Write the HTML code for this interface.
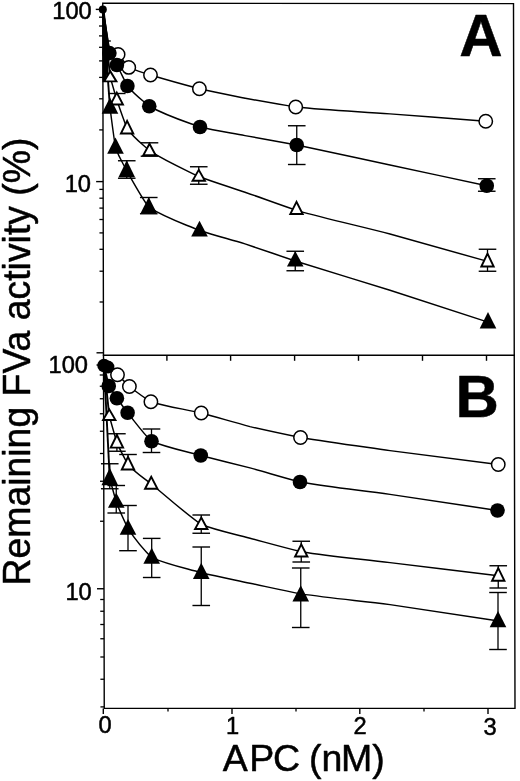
<!DOCTYPE html>
<html lang="en">
<head>
<meta charset="utf-8">
<title>Remaining FVa activity vs APC</title>
<style>html,body{margin:0;padding:0;background:#fff}svg{display:block}</style>
</head>
<body>
<svg width="520" height="781" viewBox="0 0 520 781" font-family="'Liberation Sans', sans-serif" fill="#000" stroke="#000">
<rect x="0" y="0" width="520" height="781" fill="#fff" stroke="none"/>
<g fill="none" stroke-linecap="square">
<polygon points="102.75,3.3 513.50,3.5999999999999996 515.00,708.4 104.25,708.4" stroke-width="1.4"/>
<line x1="103.50" y1="355.30" x2="514.25" y2="355.30" stroke-width="1.4"/>
</g>
<g stroke-linecap="butt">
<line x1="95.76" y1="9.40" x2="102.76" y2="9.40" stroke-width="1.4"/>
<line x1="96.13" y1="181.60" x2="103.13" y2="181.60" stroke-width="1.4"/>
<line x1="96.50" y1="352.80" x2="103.50" y2="352.80" stroke-width="1.4"/>
<line x1="96.52" y1="365.00" x2="103.52" y2="365.00" stroke-width="1.4"/>
<line x1="97.00" y1="588.75" x2="104.00" y2="588.75" stroke-width="1.4"/>
<line x1="98.98" y1="17.20" x2="102.78" y2="17.20" stroke-width="1.3"/>
<line x1="99.00" y1="26.00" x2="102.80" y2="26.00" stroke-width="1.3"/>
<line x1="99.02" y1="35.90" x2="102.82" y2="35.90" stroke-width="1.3"/>
<line x1="99.04" y1="47.30" x2="102.84" y2="47.30" stroke-width="1.3"/>
<line x1="99.07" y1="60.90" x2="102.87" y2="60.90" stroke-width="1.3"/>
<line x1="99.11" y1="77.40" x2="102.91" y2="77.40" stroke-width="1.3"/>
<line x1="99.15" y1="98.80" x2="102.95" y2="98.80" stroke-width="1.3"/>
<line x1="99.22" y1="129.90" x2="103.02" y2="129.90" stroke-width="1.3"/>
<line x1="99.35" y1="189.40" x2="103.15" y2="189.40" stroke-width="1.3"/>
<line x1="99.37" y1="198.20" x2="103.17" y2="198.20" stroke-width="1.3"/>
<line x1="99.39" y1="208.10" x2="103.19" y2="208.10" stroke-width="1.3"/>
<line x1="99.41" y1="219.50" x2="103.21" y2="219.50" stroke-width="1.3"/>
<line x1="99.44" y1="232.90" x2="103.24" y2="232.90" stroke-width="1.3"/>
<line x1="99.47" y1="249.30" x2="103.27" y2="249.30" stroke-width="1.3"/>
<line x1="99.52" y1="271.20" x2="103.32" y2="271.20" stroke-width="1.3"/>
<line x1="99.59" y1="302.00" x2="103.39" y2="302.00" stroke-width="1.3"/>
<line x1="99.74" y1="375.00" x2="103.54" y2="375.00" stroke-width="1.3"/>
<line x1="99.77" y1="386.25" x2="103.57" y2="386.25" stroke-width="1.3"/>
<line x1="99.79" y1="398.75" x2="103.59" y2="398.75" stroke-width="1.3"/>
<line x1="99.82" y1="413.75" x2="103.62" y2="413.75" stroke-width="1.3"/>
<line x1="99.86" y1="431.25" x2="103.66" y2="431.25" stroke-width="1.3"/>
<line x1="99.91" y1="453.50" x2="103.71" y2="453.50" stroke-width="1.3"/>
<line x1="99.97" y1="481.25" x2="103.77" y2="481.25" stroke-width="1.3"/>
<line x1="100.05" y1="521.25" x2="103.85" y2="521.25" stroke-width="1.3"/>
<line x1="100.22" y1="599.50" x2="104.02" y2="599.50" stroke-width="1.3"/>
<line x1="100.25" y1="611.25" x2="104.05" y2="611.25" stroke-width="1.3"/>
<line x1="100.27" y1="624.50" x2="104.07" y2="624.50" stroke-width="1.3"/>
<line x1="100.30" y1="638.75" x2="104.10" y2="638.75" stroke-width="1.3"/>
<line x1="100.34" y1="657.00" x2="104.14" y2="657.00" stroke-width="1.3"/>
<line x1="100.39" y1="679.25" x2="104.19" y2="679.25" stroke-width="1.3"/>
<line x1="100.45" y1="706.90" x2="104.25" y2="706.90" stroke-width="1.3"/>
<line x1="103.30" y1="708.40" x2="103.30" y2="714.00" stroke-width="1.4"/>
<line x1="232.00" y1="708.40" x2="232.00" y2="714.00" stroke-width="1.4"/>
<line x1="359.80" y1="708.40" x2="359.80" y2="714.00" stroke-width="1.4"/>
<line x1="488.00" y1="708.40" x2="488.00" y2="714.00" stroke-width="1.4"/>
<line x1="168.00" y1="708.40" x2="168.00" y2="711.60" stroke-width="1.3"/>
<line x1="296.00" y1="708.40" x2="296.00" y2="711.60" stroke-width="1.3"/>
<line x1="424.00" y1="708.40" x2="424.00" y2="711.60" stroke-width="1.3"/>
<line x1="166.90" y1="355.30" x2="166.90" y2="360.80" stroke-width="1.4"/>
<line x1="230.60" y1="355.30" x2="230.60" y2="360.80" stroke-width="1.4"/>
<line x1="294.60" y1="355.30" x2="294.60" y2="360.80" stroke-width="1.4"/>
<line x1="358.50" y1="355.30" x2="358.50" y2="360.80" stroke-width="1.4"/>
<line x1="422.50" y1="355.30" x2="422.50" y2="360.80" stroke-width="1.4"/>
<line x1="486.50" y1="355.30" x2="486.50" y2="360.80" stroke-width="1.4"/>
</g>
<line x1="105.50" y1="41.00" x2="110.80" y2="41.00" stroke-width="1.4"/>
<polygon points="102.3,9.4 104.4,9.4 108.7,46 108.7,60 107.6,70 105.9,82 102.6,82" stroke="none"/>
<g>
<line x1="102.80" y1="9.40" x2="109.40" y2="51.00" stroke-width="1.9"/>
<path d="M109.40,51.00C112.30,51.92 115.20,52.83 118.10,54.40C121.65,58.08 125.20,63.81 128.75,67.40C136.00,70.95 143.25,72.53 150.50,75.00C166.80,79.89 183.10,84.42 199.40,88.75C214.60,92.12 229.80,95.15 245.00,98.20C261.92,101.25 278.83,104.30 295.75,107.00C327.17,110.12 358.58,111.58 390.00,113.90C421.92,116.33 453.83,118.79 485.75,121.25" fill="none" stroke-width="1.45"/>
<line x1="102.80" y1="9.40" x2="109.40" y2="53.10" stroke-width="1.9"/>
<path d="M109.40,53.10C111.90,56.98 114.40,60.86 116.90,65.00C120.40,71.66 123.90,79.49 127.40,86.00C134.68,94.86 141.97,99.95 149.25,106.25C166.17,115.62 183.08,120.86 200.00,127.00C215.00,130.48 230.00,132.76 245.00,135.60C262.25,138.77 279.50,141.79 296.75,145.00C327.83,151.40 358.92,158.33 390.00,165.00C422.25,171.92 454.50,178.83 486.75,185.75" fill="none" stroke-width="1.45"/>
<line x1="102.80" y1="9.40" x2="110.25" y2="77.38" stroke-width="1.9"/>
<path d="M110.25,77.38C112.42,84.97 114.58,92.55 116.75,99.80C120.20,109.93 123.65,120.01 127.10,128.48C134.57,138.85 142.03,143.73 149.50,150.70C165.92,161.40 182.33,168.48 198.75,176.45C214.17,182.24 229.58,186.91 245.00,192.20C262.17,198.22 279.33,204.58 296.50,210.40C327.67,219.08 358.83,225.96 390.00,234.00C422.50,242.94 455.00,252.17 487.50,261.40" fill="none" stroke-width="1.45"/>
<line x1="102.80" y1="9.40" x2="110.00" y2="107.52" stroke-width="1.9"/>
<path d="M110.00,107.52C111.83,122.01 113.67,136.50 115.50,147.52C119.25,158.34 123.00,163.18 126.75,170.70C134.08,183.63 141.42,197.17 148.75,207.15C165.67,218.02 182.58,223.27 199.50,230.45C214.67,235.40 229.83,239.29 245.00,243.90C261.75,249.44 278.50,255.37 295.25,261.00C326.83,271.00 358.42,280.36 390.00,290.20C422.67,300.73 455.33,311.44 488.00,322.15" fill="none" stroke-width="1.45"/>
<line x1="296.75" y1="125.75" x2="296.75" y2="164.50" stroke-width="1.3"/>
<line x1="287.95" y1="125.75" x2="305.55" y2="125.75" stroke-width="1.4"/>
<line x1="287.95" y1="164.50" x2="305.55" y2="164.50" stroke-width="1.4"/>
<line x1="486.75" y1="178.75" x2="486.75" y2="191.25" stroke-width="1.3"/>
<line x1="477.95" y1="178.75" x2="495.55" y2="178.75" stroke-width="1.4"/>
<line x1="477.95" y1="191.25" x2="495.55" y2="191.25" stroke-width="1.4"/>
<line x1="116.75" y1="93.50" x2="116.75" y2="105.00" stroke-width="1.3"/>
<line x1="107.95" y1="93.50" x2="125.55" y2="93.50" stroke-width="1.4"/>
<line x1="149.50" y1="142.80" x2="149.50" y2="156.20" stroke-width="1.3"/>
<line x1="140.70" y1="142.80" x2="158.30" y2="142.80" stroke-width="1.4"/>
<line x1="140.70" y1="156.20" x2="158.30" y2="156.20" stroke-width="1.4"/>
<line x1="198.75" y1="166.75" x2="198.75" y2="184.25" stroke-width="1.3"/>
<line x1="189.95" y1="166.75" x2="207.55" y2="166.75" stroke-width="1.4"/>
<line x1="189.95" y1="184.25" x2="207.55" y2="184.25" stroke-width="1.4"/>
<line x1="487.50" y1="249.25" x2="487.50" y2="271.25" stroke-width="1.3"/>
<line x1="478.70" y1="249.25" x2="496.30" y2="249.25" stroke-width="1.4"/>
<line x1="478.70" y1="271.25" x2="496.30" y2="271.25" stroke-width="1.4"/>
<line x1="126.75" y1="160.75" x2="126.75" y2="178.25" stroke-width="1.3"/>
<line x1="117.95" y1="160.75" x2="135.55" y2="160.75" stroke-width="1.4"/>
<line x1="117.95" y1="178.25" x2="135.55" y2="178.25" stroke-width="1.4"/>
<line x1="148.75" y1="197.50" x2="148.75" y2="213.75" stroke-width="1.3"/>
<line x1="139.95" y1="197.50" x2="157.55" y2="197.50" stroke-width="1.4"/>
<line x1="139.95" y1="213.75" x2="157.55" y2="213.75" stroke-width="1.4"/>
<line x1="295.25" y1="251.25" x2="295.25" y2="270.75" stroke-width="1.3"/>
<line x1="286.45" y1="251.25" x2="304.05" y2="251.25" stroke-width="1.4"/>
<line x1="286.45" y1="270.75" x2="304.05" y2="270.75" stroke-width="1.4"/>
<circle cx="118.10" cy="54.40" r="6.7" fill="#fff" stroke-width="1.5"/>
<circle cx="128.75" cy="67.40" r="6.7" fill="#fff" stroke-width="1.5"/>
<circle cx="150.50" cy="75.00" r="6.7" fill="#fff" stroke-width="1.5"/>
<circle cx="199.40" cy="88.75" r="6.7" fill="#fff" stroke-width="1.5"/>
<circle cx="295.75" cy="107.00" r="6.7" fill="#fff" stroke-width="1.5"/>
<circle cx="485.75" cy="121.25" r="6.7" fill="#fff" stroke-width="1.5"/>
<polygon points="110.25,71.20 104.05,81.40 116.45,81.40" fill="#fff" stroke-width="1.9" stroke-linejoin="miter"/>
<polygon points="116.75,92.60 110.55,104.50 122.95,104.50" fill="#fff" stroke-width="1.9" stroke-linejoin="miter"/>
<polygon points="127.10,120.80 120.90,133.50 133.30,133.50" fill="#fff" stroke-width="1.9" stroke-linejoin="miter"/>
<polygon points="149.50,143.80 143.30,155.20 155.70,155.20" fill="#fff" stroke-width="1.9" stroke-linejoin="miter"/>
<polygon points="198.75,169.85 192.55,180.75 204.95,180.75" fill="#fff" stroke-width="1.9" stroke-linejoin="miter"/>
<polygon points="296.50,201.85 290.30,214.00 302.70,214.00" fill="#fff" stroke-width="1.9" stroke-linejoin="miter"/>
<polygon points="487.50,253.60 481.30,266.50 493.70,266.50" fill="#fff" stroke-width="1.9" stroke-linejoin="miter"/>
<circle cx="109.40" cy="53.10" r="7.3" fill="#000" stroke="none"/>
<circle cx="116.90" cy="65.00" r="7.3" fill="#000" stroke="none"/>
<circle cx="127.40" cy="86.00" r="7.3" fill="#000" stroke="none"/>
<circle cx="149.25" cy="106.25" r="7.3" fill="#000" stroke="none"/>
<circle cx="200.00" cy="127.00" r="7.3" fill="#000" stroke="none"/>
<circle cx="296.75" cy="145.00" r="7.3" fill="#000" stroke="none"/>
<circle cx="486.75" cy="185.75" r="7.3" fill="#000" stroke="none"/>
<polygon points="110.00,97.40 101.70,113.80 118.30,113.80" fill="#000" stroke="none"/>
<polygon points="115.50,137.40 107.20,153.80 123.80,153.80" fill="#000" stroke="none"/>
<polygon points="126.75,160.25 118.45,177.20 135.05,177.20" fill="#000" stroke="none"/>
<polygon points="148.75,197.00 140.45,213.45 157.05,213.45" fill="#000" stroke="none"/>
<polygon points="199.50,220.75 191.20,236.45 207.80,236.45" fill="#000" stroke="none"/>
<polygon points="295.25,251.00 286.95,266.45 303.55,266.45" fill="#000" stroke="none"/>
<polygon points="488.00,312.00 479.70,328.45 496.30,328.45" fill="#000" stroke="none"/>
<circle cx="102.80" cy="9.40" r="4.0" fill="#000" stroke="none"/>
</g>
<g>
<line x1="104.00" y1="365.50" x2="109.50" y2="370.00" stroke-width="1.9"/>
<path d="M109.50,370.00C112.17,371.50 114.83,373.00 117.50,374.75C121.47,378.29 125.43,382.74 129.40,386.50C136.57,392.10 143.73,397.42 150.90,401.75C167.68,407.00 184.47,409.06 201.25,413.00C217.50,417.36 233.75,422.27 250.00,426.60C266.83,430.45 283.67,434.04 300.50,437.50C330.33,442.40 360.17,446.33 390.00,450.60C426.08,455.38 462.17,459.94 498.25,464.50" fill="none" stroke-width="1.45"/>
<line x1="104.00" y1="365.50" x2="108.75" y2="386.00" stroke-width="1.9"/>
<path d="M108.75,386.00C111.47,390.12 114.18,394.24 116.90,398.25C120.47,403.20 124.03,407.99 127.60,412.75C135.57,422.61 143.53,433.71 151.50,441.25C167.92,447.90 184.33,450.87 200.75,455.50C217.17,459.76 233.58,463.67 250.00,467.90C266.67,472.50 283.33,477.64 300.00,482.00C330.00,487.25 360.00,490.20 390.00,494.40C425.83,499.67 461.67,505.09 497.50,510.50" fill="none" stroke-width="1.45"/>
<line x1="104.00" y1="365.50" x2="109.25" y2="415.80" stroke-width="1.9"/>
<path d="M109.25,415.80C111.80,425.06 114.35,434.32 116.90,442.62C120.60,451.26 124.30,457.75 128.00,464.50C135.75,473.37 143.50,477.50 151.25,483.96C167.92,497.59 184.58,512.77 201.25,524.50C217.50,530.77 233.75,533.69 250.00,538.20C267.08,542.76 284.17,547.55 301.25,551.70C330.83,556.39 360.42,558.97 390.00,562.60C426.08,566.99 462.17,571.37 498.25,575.75" fill="none" stroke-width="1.45"/>
<line x1="104.00" y1="365.50" x2="109.75" y2="478.50" stroke-width="1.9"/>
<path d="M109.75,478.50C111.92,486.54 114.08,494.58 116.25,502.00C120.17,512.25 124.08,520.35 128.00,528.70C135.90,540.56 143.80,549.91 151.70,557.62C168.22,564.68 184.73,568.01 201.25,572.75C217.50,576.53 233.75,579.73 250.00,583.20C266.92,586.78 283.83,590.56 300.75,593.90C330.50,598.16 360.25,600.86 390.00,604.60C426.00,609.81 462.00,615.41 498.00,621.00" fill="none" stroke-width="1.45"/>
<line x1="151.50" y1="429.00" x2="151.50" y2="452.50" stroke-width="1.3"/>
<line x1="142.70" y1="429.00" x2="160.30" y2="429.00" stroke-width="1.4"/>
<line x1="142.70" y1="452.50" x2="160.30" y2="452.50" stroke-width="1.4"/>
<line x1="116.90" y1="433.75" x2="116.90" y2="451.25" stroke-width="1.3"/>
<line x1="108.10" y1="433.75" x2="125.70" y2="433.75" stroke-width="1.4"/>
<line x1="108.10" y1="451.25" x2="125.70" y2="451.25" stroke-width="1.4"/>
<line x1="128.00" y1="454.50" x2="128.00" y2="470.00" stroke-width="1.3"/>
<line x1="119.20" y1="454.50" x2="136.80" y2="454.50" stroke-width="1.4"/>
<line x1="201.25" y1="515.00" x2="201.25" y2="533.25" stroke-width="1.3"/>
<line x1="192.45" y1="515.00" x2="210.05" y2="515.00" stroke-width="1.4"/>
<line x1="192.45" y1="533.25" x2="210.05" y2="533.25" stroke-width="1.4"/>
<line x1="301.25" y1="541.25" x2="301.25" y2="562.00" stroke-width="1.3"/>
<line x1="292.45" y1="541.25" x2="310.05" y2="541.25" stroke-width="1.4"/>
<line x1="292.45" y1="562.00" x2="310.05" y2="562.00" stroke-width="1.4"/>
<line x1="498.25" y1="565.75" x2="498.25" y2="588.00" stroke-width="1.3"/>
<line x1="489.45" y1="565.75" x2="507.05" y2="565.75" stroke-width="1.4"/>
<line x1="489.45" y1="588.00" x2="507.05" y2="588.00" stroke-width="1.4"/>
<line x1="109.75" y1="463.75" x2="109.75" y2="488.75" stroke-width="1.3"/>
<line x1="100.95" y1="463.75" x2="118.55" y2="463.75" stroke-width="1.4"/>
<line x1="100.95" y1="488.75" x2="118.55" y2="488.75" stroke-width="1.4"/>
<line x1="116.25" y1="485.50" x2="116.25" y2="513.00" stroke-width="1.3"/>
<line x1="107.45" y1="485.50" x2="125.05" y2="485.50" stroke-width="1.4"/>
<line x1="107.45" y1="513.00" x2="125.05" y2="513.00" stroke-width="1.4"/>
<line x1="128.00" y1="505.50" x2="128.00" y2="550.70" stroke-width="1.3"/>
<line x1="119.20" y1="505.50" x2="136.80" y2="505.50" stroke-width="1.4"/>
<line x1="119.20" y1="550.70" x2="136.80" y2="550.70" stroke-width="1.4"/>
<line x1="151.70" y1="538.40" x2="151.70" y2="577.50" stroke-width="1.3"/>
<line x1="142.90" y1="538.40" x2="160.50" y2="538.40" stroke-width="1.4"/>
<line x1="142.90" y1="577.50" x2="160.50" y2="577.50" stroke-width="1.4"/>
<line x1="201.25" y1="547.00" x2="201.25" y2="605.50" stroke-width="1.3"/>
<line x1="192.45" y1="547.00" x2="210.05" y2="547.00" stroke-width="1.4"/>
<line x1="192.45" y1="605.50" x2="210.05" y2="605.50" stroke-width="1.4"/>
<line x1="300.75" y1="568.00" x2="300.75" y2="627.50" stroke-width="1.3"/>
<line x1="291.95" y1="568.00" x2="309.55" y2="568.00" stroke-width="1.4"/>
<line x1="291.95" y1="627.50" x2="309.55" y2="627.50" stroke-width="1.4"/>
<line x1="498.00" y1="592.50" x2="498.00" y2="649.50" stroke-width="1.3"/>
<line x1="489.20" y1="592.50" x2="506.80" y2="592.50" stroke-width="1.4"/>
<line x1="489.20" y1="649.50" x2="506.80" y2="649.50" stroke-width="1.4"/>
<circle cx="117.50" cy="374.75" r="6.7" fill="#fff" stroke-width="1.5"/>
<circle cx="129.40" cy="386.50" r="6.7" fill="#fff" stroke-width="1.5"/>
<circle cx="150.90" cy="401.75" r="6.7" fill="#fff" stroke-width="1.5"/>
<circle cx="201.25" cy="413.00" r="6.7" fill="#fff" stroke-width="1.5"/>
<circle cx="300.50" cy="437.50" r="6.7" fill="#fff" stroke-width="1.5"/>
<circle cx="498.25" cy="464.50" r="6.7" fill="#fff" stroke-width="1.5"/>
<polygon points="109.25,409.35 103.05,420.00 115.45,420.00" fill="#fff" stroke-width="1.9" stroke-linejoin="miter"/>
<polygon points="116.90,435.00 110.70,447.60 123.10,447.60" fill="#fff" stroke-width="1.9" stroke-linejoin="miter"/>
<polygon points="128.00,456.85 121.80,469.50 134.20,469.50" fill="#fff" stroke-width="1.9" stroke-linejoin="miter"/>
<polygon points="151.25,476.70 145.05,488.70 157.45,488.70" fill="#fff" stroke-width="1.9" stroke-linejoin="miter"/>
<polygon points="201.25,517.60 195.05,529.00 207.45,529.00" fill="#fff" stroke-width="1.9" stroke-linejoin="miter"/>
<polygon points="301.25,544.35 295.05,556.50 307.45,556.50" fill="#fff" stroke-width="1.9" stroke-linejoin="miter"/>
<polygon points="498.25,568.10 492.05,580.75 504.45,580.75" fill="#fff" stroke-width="1.9" stroke-linejoin="miter"/>
<circle cx="108.75" cy="386.00" r="7.3" fill="#000" stroke="none"/>
<circle cx="116.90" cy="398.25" r="7.3" fill="#000" stroke="none"/>
<circle cx="127.60" cy="412.75" r="7.3" fill="#000" stroke="none"/>
<circle cx="151.50" cy="441.25" r="7.3" fill="#000" stroke="none"/>
<circle cx="200.75" cy="455.50" r="7.3" fill="#000" stroke="none"/>
<circle cx="300.00" cy="482.00" r="7.3" fill="#000" stroke="none"/>
<circle cx="497.50" cy="510.50" r="7.3" fill="#000" stroke="none"/>
<polygon points="109.75,467.75 101.45,485.20 118.05,485.20" fill="#000" stroke="none"/>
<polygon points="116.25,492.75 107.95,507.70 124.55,507.70" fill="#000" stroke="none"/>
<polygon points="128.00,519.00 119.70,534.70 136.30,534.70" fill="#000" stroke="none"/>
<polygon points="151.70,547.80 143.40,563.70 160.00,563.70" fill="#000" stroke="none"/>
<polygon points="201.25,562.75 192.95,578.95 209.55,578.95" fill="#000" stroke="none"/>
<polygon points="300.75,585.25 292.45,601.45 309.05,601.45" fill="#000" stroke="none"/>
<polygon points="498.00,611.00 489.70,627.20 506.30,627.20" fill="#000" stroke="none"/>
<circle cx="104.00" cy="365.50" r="6.7" fill="#000" stroke="none"/>
</g>
<circle cx="108.00" cy="367.00" r="6.4" fill="#000" stroke="none"/>
<g stroke="#000" stroke-width="0.5" stroke-linejoin="round">
<text x="91.8" y="18.8" font-size="23.7" text-anchor="end">100</text>
<text x="91.0" y="192.0" font-size="23.7" text-anchor="end">10</text>
<text x="88.0" y="372.8" font-size="23.7" text-anchor="end">100</text>
<text x="91.8" y="599.5" font-size="23.7" text-anchor="end">10</text>
<text x="105.0" y="733.0" font-size="23.7" text-anchor="middle">0</text>
<text x="232.6" y="734.0" font-size="23.7" text-anchor="middle">1</text>
<text x="360.0" y="734.0" font-size="23.7" text-anchor="middle">2</text>
<text x="490.0" y="734.6" font-size="23.7" text-anchor="middle">3</text>
<text x="459.2" y="56.2" font-size="60" font-weight="bold">A</text>
<text x="455.4" y="417.4" font-size="60" font-weight="bold">B</text>
<text x="222.8 249.3 273.0 300 309.0 321.4 340.9 372.3" y="770.5" font-size="37.5">APC (nM)</text>
<text transform="translate(30.0 585.5) rotate(-90)" font-size="38" textLength="448" lengthAdjust="spacingAndGlyphs">Remaining FVa activity (%)</text>
</g>
</svg>
</body>
</html>
